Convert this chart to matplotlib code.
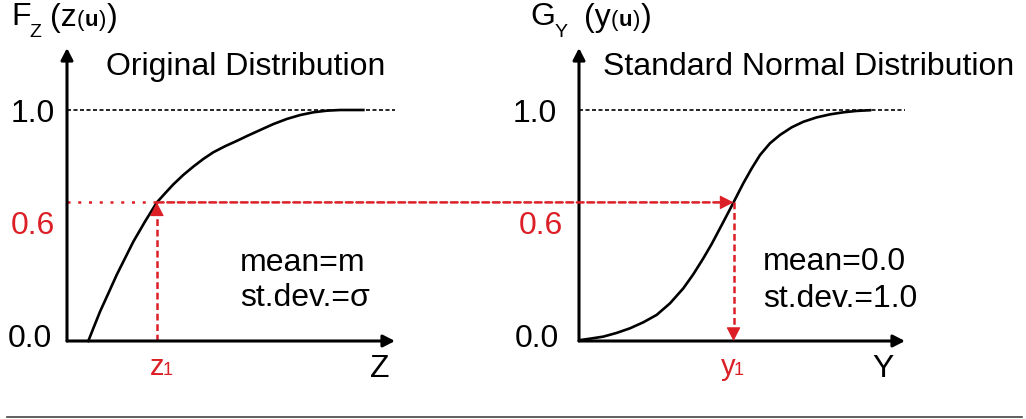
import matplotlib
matplotlib.use("Agg")
import matplotlib.pyplot as plt
from matplotlib.patches import ConnectionPatch
from matplotlib.lines import Line2D

plt.rcParams["font.family"] = ["Liberation Sans", "DejaVu Sans"]

W, H = 1026, 419
RED = "#dc1f26"

# Original distribution: cumulative curve F_Z(z)
z_vals = [0.650, 0.803, 1.006, 1.260, 1.514, 1.768, 2.022, 2.378, 2.74, 2.988,
          3.242, 3.547, 3.852, 4.156, 4.461, 4.817, 5.173, 5.528, 5.884, 6.291,
          6.697, 7.104, 7.510, 7.917, 8.323, 9.035]
fz_vals = [0.0, 0.055, 0.127, 0.206, 0.286, 0.358, 0.430, 0.517, 0.60, 0.639,
           0.678, 0.719, 0.755, 0.788, 0.817, 0.843, 0.866, 0.890, 0.913, 0.939,
           0.961, 0.978, 0.990, 0.997, 1.0, 1.0]

# Standard normal distribution: cumulative curve G_Y(y)
y_vals = [0.031, 0.337, 0.746, 1.155, 1.564, 1.973, 2.382, 2.791, 3.200, 3.507,
          3.814, 4.070, 4.325, 4.530, 4.74, 4.888, 5.041, 5.297, 5.552, 5.859,
          6.166, 6.524, 6.881, 7.290, 7.699, 8.108, 8.517, 8.926]
gy_vals = [0.004, 0.010, 0.019, 0.035, 0.055, 0.081, 0.113, 0.163, 0.228, 0.289,
           0.358, 0.420, 0.488, 0.543, 0.60, 0.641, 0.683, 0.747, 0.805, 0.856,
           0.892, 0.925, 0.949, 0.968, 0.981, 0.990, 0.996, 0.999]

# Quantile transform: probability level and matching values
P = 0.6
Z1 = 2.74
Y1 = 4.74

tick_values = [0.0, 1.0]
tick_labels = ["0.0", "1.0"]
p_label = "0.6"


def fx(x):
    return x / W


def fy(y):
    return 1 - y / H


fig = plt.figure(figsize=(W / 100, H / 100), dpi=100)
YTOP = (341 - 48) / 231
ax_l = fig.add_axes([fx(67), fy(341), 328 / W, 293 / H])
ax_r = fig.add_axes([fx(579), fy(341), 326 / W, 293 / H])
for ax in (ax_l, ax_r):
    ax.set_xlim(0, 10)
    ax.set_ylim(0, YTOP)
    ax.axis("off")

axis_kw = dict(arrowstyle="-|>,head_length=7,head_width=3.6", mutation_scale=1,
               color="black", lw=2.2, shrinkA=0, shrinkB=0)
head_kw = dict(arrowstyle="-|>,head_length=8.6,head_width=4.4", mutation_scale=1,
               color=RED, lw=0.8, shrinkA=0, shrinkB=0)

for ax in (ax_l, ax_r):
    ax.annotate("", xy=(0, YTOP), xytext=(0, 0), arrowprops=axis_kw, annotation_clip=False)
    ax.annotate("", xy=(10, 0), xytext=(0, 0), arrowprops=axis_kw, annotation_clip=False)
    ax.plot([0, 10], [1, 1], color="black", lw=1.2, ls=(0, (2.4, 1.5)), clip_on=False)

# cumulative curves
ax_l.plot(z_vals, fz_vals, color="black", lw=1.9, clip_on=False, solid_joinstyle="round")
ax_r.plot(y_vals, gy_vals, color="black", lw=1.9, clip_on=False, solid_joinstyle="round")

DASH = (0, (2.7, 1.5))
# red construction lines
ax_l.plot([0, Z1], [P, P], color=RED, lw=1.8, ls=(0, (1.2, 3.1)), clip_on=False)
ax_l.plot([Z1, Z1], [0, P - 0.05], color=RED, lw=1.8, ls=DASH, clip_on=False)
ax_l.annotate("", xy=(Z1, P), xytext=(Z1, P - 0.05), arrowprops=head_kw, annotation_clip=False)

con = ConnectionPatch(xyA=(Z1, P), coordsA=ax_l.transData,
                      xyB=(Y1 - 0.37, P), coordsB=ax_r.transData,
                      arrowstyle="-", color=RED, lw=1.8, linestyle=DASH)
fig.add_artist(con)
ax_r.annotate("", xy=(Y1, P), xytext=(Y1 - 0.37, P), arrowprops=head_kw, annotation_clip=False)

ax_r.plot([Y1, Y1], [P, 0.05], color=RED, lw=1.8, ls=DASH, clip_on=False)
ax_r.annotate("", xy=(Y1, 0), xytext=(Y1, 0.05), arrowprops=head_kw, annotation_clip=False)


# tick labels on the vertical axes
def tick(ax, value, text, dx, dy, color="black"):
    ax.annotate(text, xy=(0, value), xytext=(dx, dy), textcoords="offset pixels",
                ha="right", va="baseline", fontsize=23, color=color, annotation_clip=False)


tick(ax_l, tick_values[1], tick_labels[1], -12, -12)
tick(ax_l, tick_values[0], tick_labels[0], -15, -6)
tick(ax_l, P, p_label, -12, -32, RED)
tick(ax_r, tick_values[1], tick_labels[1], -22, -12)
tick(ax_r, tick_values[0], tick_labels[0], -20, -6)
tick(ax_r, P, p_label, -16, -32, RED)


def label(x, y, s, size=23, color="black", weight="normal", ha="left"):
    fig.text(fx(x), fy(y), s, fontsize=size, color=color, fontweight=weight,
             ha=ha, va="baseline")


# panel titles
label(106, 75, "Original Distribution")
label(603, 75, "Standard Normal Distribution")

# axis names
label(11, 25, "F")
label(29, 37, "Z", size=14)
label(50, 26, "(z")
label(77, 26, "(", size=16)
label(84.5, 26, "u", size=16, weight="bold")
label(98.5, 26, ")", size=16)
label(107, 26, ")")

label(530, 25, "G")
label(555, 37, "Y", size=14)
label(584, 26, "(y")
label(611, 26, "(", size=16)
label(618.5, 26, "u", size=16, weight="bold")
label(632.5, 26, ")", size=16)
label(640.5, 26, ")")

label(370, 377, "Z")
label(872, 377, "Y")

label(150, 375, "z", size=21, color=RED)
label(163, 375, "1", size=13, color=RED)
label(721, 375, "y", size=21, color=RED)
label(734, 375, "1", size=13, color=RED)

# distribution parameters
label(240, 271, "mean=m")
label(240, 306, "st.dev.=\u03c3")
label(763, 270, "mean=0.0")
label(763, 307, "st.dev.=1.0")

# bottom rule
fig.add_artist(Line2D([fx(7), fx(1022)], [fy(417), fy(417)], color="#444444", lw=1.2))

fig.savefig("out.png", dpi=100)
